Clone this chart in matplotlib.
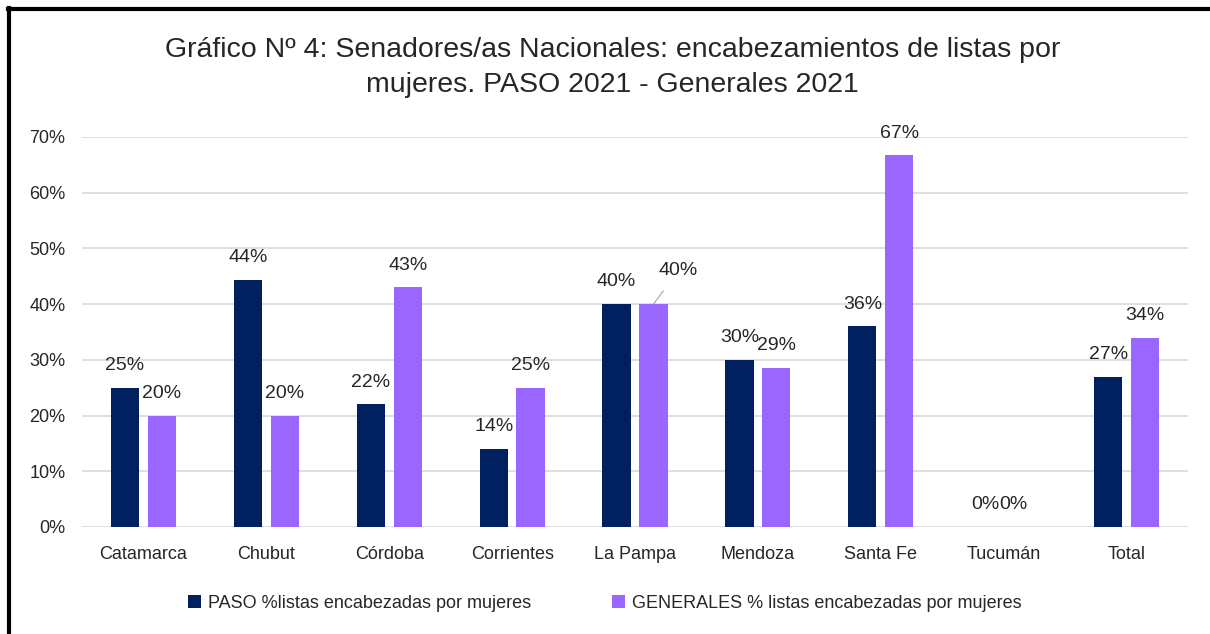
import numpy as np
import matplotlib
matplotlib.use("Agg")
import matplotlib.pyplot as plt
from matplotlib.lines import Line2D

plt.rcParams['font.family'] = ['Liberation Sans Narrow', 'Liberation Sans', 'DejaVu Sans']

provincias = ['Catamarca', 'Chubut', 'Córdoba', 'Corrientes', 'La Pampa',
              'Mendoza', 'Santa Fe', 'Tucumán', 'Total']
paso = [25.0, 44.4, 22.0, 14.0, 40.0, 30.0, 36.0, 0.0, 27.0]
generales = [20.0, 20.0, 43.0, 25.0, 40.0, 28.6, 66.7, 0.0, 34.0]
y_ticks = [0, 10, 20, 30, 40, 50, 60, 70]

label_paso = 'PASO %listas encabezadas por mujeres'
label_gen = 'GENERALES % listas encabezadas por mujeres'
titulo = ('Gráfico Nº 4: Senadores/as Nacionales: encabezamientos de listas por\n'
          'mujeres. PASO 2021 - Generales 2021')

c_paso = '#002060'
c_gen = '#9966FF'
txt = '#262626'

fig = plt.figure(figsize=(12.1, 6.34), dpi=100)
ax = fig.add_axes([0.0678, 0.1688, 0.914, 0.6152])

x = np.arange(len(provincias))
w = 0.23
gap = 0.035
b1 = ax.bar(x - w / 2 - gap, [v / 100 for v in paso], w, color=c_paso, label=label_paso, zorder=3)
b2 = ax.bar(x + w / 2 + gap, [v / 100 for v in generales], w, color=c_gen, label=label_gen, zorder=3)

ax.set_xlim(-0.5, len(provincias) - 0.5)
ax.set_ylim(0, 0.7)
ax.set_yticks([t / 100 for t in y_ticks])
ax.set_yticklabels([f'{t}%' for t in y_ticks], fontsize=13, color=txt)
ax.set_xticks(x)
ax.set_xticklabels(provincias, fontsize=13, color=txt)
ax.tick_params(axis='both', length=0)
ax.tick_params(axis='x', pad=14)
ax.tick_params(axis='y', pad=12)
ax.grid(axis='y', color='#D9D9D9', linewidth=1.2, zorder=0)
for s in ax.spines.values():
    s.set_visible(False)

# etiquetas de datos
for i, (bar, v) in enumerate(zip(b1, paso)):
    ax.annotate(f'{v:.0f}%', (bar.get_x() + bar.get_width() / 2, bar.get_height()),
                xytext=(0, 16), textcoords='offset points', ha='center', va='center',
                fontsize=14, color=txt)
for i, (bar, v) in enumerate(zip(b2, generales)):
    xc = bar.get_x() + bar.get_width() / 2
    if provincias[i] == 'La Pampa':
        ax.annotate(f'{v:.0f}%', (xc, bar.get_height()),
                    xytext=(18, 24), textcoords='offset points', ha='center', va='center',
                    fontsize=14, color=txt,
                    arrowprops=dict(arrowstyle='-', color='#A6A6A6', lw=0.8, shrinkA=8, shrinkB=0))
    elif provincias[i] == 'Tucumán':
        ax.annotate(f'{v:.0f}%', (xc, bar.get_height()),
                    xytext=(-6, 16), textcoords='offset points', ha='center', va='center',
                    fontsize=14, color=txt)
    else:
        ax.annotate(f'{v:.0f}%', (xc, bar.get_height()),
                    xytext=(0, 16), textcoords='offset points', ha='center', va='center',
                    fontsize=14, color=txt)

fig.text(0.506, 0.893, titulo, ha='center', va='center', fontsize=20.5, color=txt,
         linespacing=1.45)

fig.legend(handles=[b1, b2], loc='center', bbox_to_anchor=(0.5, 0.048), ncol=2,
           frameon=False, fontsize=13, handlelength=0.7, handleheight=0.7,
           handletextpad=0.4, columnspacing=4.5, labelcolor=txt)

# marco
fig.add_artist(Line2D([8 / 1210, 1.0], [1 - 9 / 634, 1 - 9 / 634], color='black', lw=3,
                      transform=fig.transFigure))
fig.add_artist(Line2D([9 / 1210, 9 / 1210], [0.0, 1 - 8 / 634], color='black', lw=3,
                      transform=fig.transFigure))

fig.savefig('out.png', dpi=100)
